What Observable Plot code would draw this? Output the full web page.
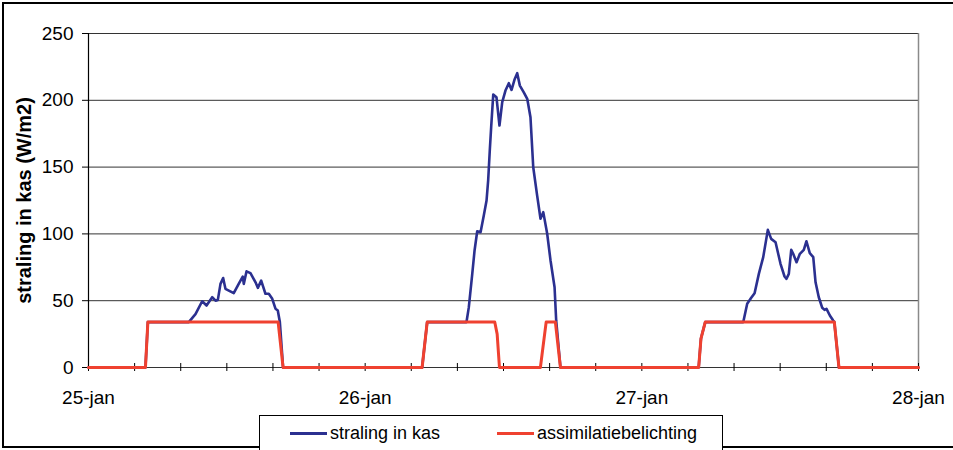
<!DOCTYPE html>
<html>
<head>
<meta charset="utf-8">
<script src="https://cdn.jsdelivr.net/npm/d3@7"></script>
<script src="https://cdn.jsdelivr.net/npm/@observablehq/plot@0.6"></script>
<style>
  html, body { margin: 0; padding: 0; background: #fff; }
  #wrap { position: relative; width: 953px; height: 450px; overflow: hidden; font-family: "Liberation Sans", Arial, sans-serif; }
  #border { position: absolute; left: 2px; top: 2px; width: 1000px; height: 446px; box-sizing: border-box; border: 2px solid #000; }
  #chart { position: absolute; left: 0; top: 0; }
  #legend { position: absolute; left: 259px; top: 415px; width: 464px; height: 40px; box-sizing: border-box; border: 1.5px solid #000; background: #fff; }
  .item { position: absolute; top: 7px; display: flex; align-items: center; font-size: 18px; color: #000; white-space: nowrap; }
  .swatch { display: inline-block; width: 37px; height: 3px; margin-right: 3px; }
</style>
</head>
<body>
<div id="wrap">
  <div id="border"></div>
  <div id="chart"></div>
  <div id="legend"></div>
</div>
<script>
// time in hours since 25-jan 00:00
const blueHours = [0, 4.94, 5.15,
  8.70, 9.28, 9.86, 10.24, 10.73, 11.02, 11.22, 11.45, 11.68, 11.88, 12.17, 12.60, 13.03, 13.38, 13.47, 13.71, 14.05, 14.49, 14.69, 14.98, 15.35, 15.64, 15.94, 16.22, 16.42, 16.60,
  16.88, 28.94, 29.38,
  32.79, 32.99, 33.29, 33.49, 33.72, 34.01, 34.29, 34.53, 34.67, 34.81, 34.93, 35.11, 35.39, 35.65, 35.89, 36.17, 36.46, 36.70, 36.95, 37.19, 37.42, 37.76, 38.06, 38.34, 38.58, 38.92, 39.21, 39.45, 39.79, 40.08, 40.43, 40.57,
  40.94, 52.93, 53.13, 53.50,
  56.80, 57.14, 57.49, 57.78, 58.15, 58.53, 58.93, 59.22, 59.60, 60.03, 60.38, 60.55, 60.75, 60.96, 61.13, 61.42, 61.71, 62.05, 62.28, 62.57, 62.87, 63.07, 63.35, 63.65, 63.85, 64.02, 64.31, 64.60,
  64.70, 65.10, 72];
const blueValues = [0, 0, 34,
  34, 40, 49.6, 46.4, 52.6, 50, 50.6, 62.6, 67, 58.9, 57.6, 55.6, 62.6, 68, 62.6, 72, 70.6, 63.8, 59.6, 65, 55.2, 55.2, 51.4, 44, 42.7, 34,
  0, 0, 34,
  34, 45, 70, 87.6, 102, 101.3, 113.8, 125, 140, 162.4, 179.9, 204.3, 202.3, 181.1, 198.6, 207.3, 212.8, 207.8, 215.3, 220.3, 211, 206, 201.1, 187.3, 149.9, 128.7, 111.3, 116.3, 100.1, 80.1, 60.1, 35.2,
  0, 0, 21.7, 34,
  34, 47.7, 52.2, 55.6, 70.1, 82.6, 103, 96.3, 93.8, 77.6, 68.1, 66.4, 70.1, 88.1, 85.1, 78.8, 85.1, 88.1, 94.5, 85.6, 82.6, 63.8, 52.6, 44.7, 43.1, 43.9, 38.9, 35.2,
  34, 0, 0];
const redHours = [0, 4.94, 5.15, 16.45, 16.88, 28.94, 29.38, 35.24, 35.45, 35.65, 39.20, 39.70, 40.50, 40.94, 52.93, 53.13, 53.50, 64.70, 65.10, 72];
const redValues = [0, 0, 34, 34, 0, 0, 34, 34, 25, 0, 0, 34, 34, 0, 0, 21.7, 34, 34, 0, 0];

const dayLabels = ["25-jan", "26-jan", "27-jan", "28-jan"];
const dayTicks = [0, 24, 48, 72];
const minorTicks = [0, 4, 8, 12, 16, 20, 24, 28, 32, 36, 40, 44, 48, 52, 56, 60, 64, 68, 72];
const yTicks = [0, 50, 100, 150, 200, 250];
const gridValues = [50, 100, 150, 200, 250];
const yLabel = "straling in kas (W/m2)";
const seriesNames = ["straling in kas", "assimilatiebelichting"];
const seriesColors = ["#2b3090", "#ef4130"];

const blue = blueHours.map((h, i) => ({h, v: blueValues[i]}));
const red = redHours.map((h, i) => ({h, v: redValues[i]}));

const chart = Plot.plot({
  width: 953,
  height: 416,
  marginLeft: 88,
  marginRight: 35,
  marginTop: 33,
  marginBottom: 49,
  x: {domain: [0, 72]},
  y: {domain: [0, 250]},
  style: {fontFamily: "'Liberation Sans', Arial, sans-serif", fontSize: "18px", color: "#000", background: "transparent", overflow: "visible"},
  marks: [
    Plot.ruleY(gridValues, {stroke: "#333", strokeWidth: 1, strokeOpacity: 1}),
    Plot.ruleX([72], {stroke: "#8a8a8a", strokeWidth: 1.5, strokeOpacity: 1}),
    Plot.ruleX([0], {stroke: "#000", strokeWidth: 1.2, strokeOpacity: 1}),
    Plot.ruleY([0], {stroke: "#333", strokeWidth: 1.2, strokeOpacity: 1}),
    Plot.ruleX(minorTicks, {y1: -3, y2: 3, stroke: "#000", strokeWidth: 1, strokeOpacity: 1}),
    Plot.axisY({ticks: yTicks, tickSize: 6, tickPadding: 9, label: null, fontSize: 19, strokeOpacity: 1}),
    Plot.axisX({ticks: dayTicks, tickSize: 0, tickPadding: 23, label: null, fontSize: 19, tickFormat: d => dayLabels[dayTicks.indexOf(d)]}),
    Plot.line(blue, {x: "h", y: "v", stroke: seriesColors[0], strokeWidth: 2.6}),
    Plot.line(red, {x: "h", y: "v", stroke: seriesColors[1], strokeWidth: 3}),
    Plot.text([yLabel], {frameAnchor: "left", textAnchor: "middle", dx: -64, dy: 0, rotate: -90, fontWeight: "bold", fontSize: 20, fill: "#000"})
  ]
});
document.getElementById("chart").appendChild(chart);

const legend = document.getElementById("legend");
const lefts = [30, 237];
seriesNames.forEach((name, i) => {
  const item = document.createElement("div");
  item.className = "item";
  item.style.left = lefts[i] + "px";
  const sw = document.createElement("span");
  sw.className = "swatch";
  sw.style.background = seriesColors[i];
  const t = document.createElement("span");
  t.textContent = name;
  item.appendChild(sw);
  item.appendChild(t);
  legend.appendChild(item);
});
</script>
</body>
</html>
